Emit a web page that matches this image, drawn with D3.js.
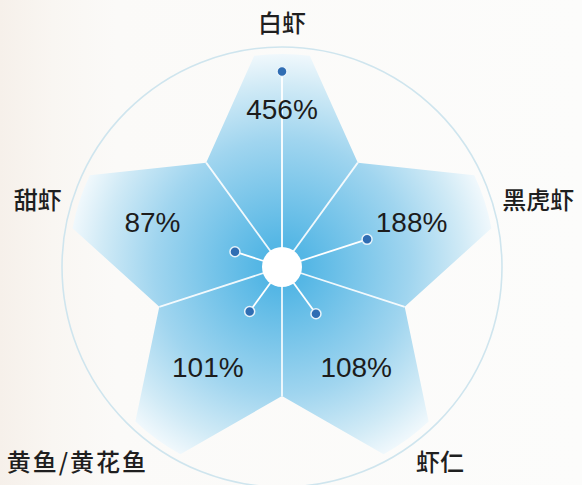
<!DOCTYPE html>
<html>
<head>
<meta charset="utf-8">
<script src="https://cdn.jsdelivr.net/npm/d3@7"></script>
<style>
  html, body { margin: 0; padding: 0; background: #fbfaf8; }
  svg { display: block; }
</style>
</head>
<body>
<svg id="chart" width="582" height="485"></svg>
<script>
// ---- data ----
const categories = ["白虾", "黑虎虾", "虾仁", "黄鱼/黄花鱼", "甜虾"];
const values = [456, 188, 108, 101, 87];
const valueLabels = ["456%", "188%", "108%", "101%", "87%"];

// ---- layout ----
const W = 582, H = 485;
const cx = 282, cy = 267;
const outerR = 220, tipR = 213, innerR = 129, hubR = 20;
const tipHalf = 7.5 * Math.PI / 180;

const svg = d3.select("#chart");
const defs = svg.append("defs");

// background paper tint
const bg = defs.append("linearGradient").attr("id", "bg").attr("x1", 0).attr("x2", 1).attr("y1", 0).attr("y2", 0);
bg.append("stop").attr("offset", 0).attr("stop-color", "#f6f0ea");
bg.append("stop").attr("offset", 0.09).attr("stop-color", "#f9f6f2");
bg.append("stop").attr("offset", 0.2).attr("stop-color", "#fbfaf8");
bg.append("stop").attr("offset", 1).attr("stop-color", "#fcfcfb");
svg.append("rect").attr("width", W).attr("height", H).attr("fill", "url(#bg)");

// radial gradient for the star (in the centred group's coordinates)
const rg = defs.append("radialGradient").attr("id", "starFill")
  .attr("gradientUnits", "userSpaceOnUse").attr("cx", 0).attr("cy", 0).attr("r", tipR);
[[0, "#4cb2e3"], [0.12, "#56b7e5"], [0.6, "#a0d5ef"], [0.85, "#d0eaf6"], [1, "#f0f8fc"]]
  .forEach(([o, c]) => rg.append("stop").attr("offset", o).attr("stop-color", c));

const angle = d3.scaleLinear().domain([0, categories.length]).range([0, 2 * Math.PI]);
const rScale = d3.scaleLinear().domain([0, 500]).range([15, 213]);

const g = svg.append("g").attr("transform", `translate(${cx},${cy})`);
const pt = (a, r) => [r * Math.sin(a), -r * Math.cos(a)];

// outer circle
g.append("circle").attr("r", outerR).attr("fill", "none")
  .attr("stroke", "#cfe5ee").attr("stroke-width", 1.6);

// star shape
const p = d3.path();
categories.forEach((c, i) => {
  const a = angle(i);
  const s = pt(a - tipHalf, tipR);
  if (i === 0) p.moveTo(s[0], s[1]); else p.lineTo(s[0], s[1]);
  p.arc(0, 0, tipR, a - tipHalf - Math.PI / 2, a + tipHalf - Math.PI / 2);
  const iv = pt(a + Math.PI / categories.length, innerR);
  p.lineTo(iv[0], iv[1]);
});
p.closePath();
g.append("path").attr("d", p.toString()).attr("fill", "url(#starFill)");

// separator lines (center to inner vertices)
categories.forEach((c, i) => {
  const iv = pt(angle(i) + Math.PI / categories.length, innerR);
  g.append("line").attr("x1", 0).attr("y1", 0).attr("x2", iv[0]).attr("y2", iv[1])
    .attr("stroke", "#ffffff").attr("stroke-width", 1.8).attr("opacity", 0.9);
});

// spokes to values
g.selectAll("line.spoke").data(values).join("line").attr("class", "spoke")
  .attr("x1", 0).attr("y1", 0)
  .attr("x2", (d, i) => pt(angle(i), rScale(d))[0])
  .attr("y2", (d, i) => pt(angle(i), rScale(d))[1])
  .attr("stroke", "#ffffff").attr("stroke-width", 1.8);

// hub
g.append("circle").attr("r", hubR).attr("fill", "#ffffff");

// dots
g.selectAll("circle.dot").data(values).join("circle").attr("class", "dot")
  .attr("cx", (d, i) => pt(angle(i), rScale(d))[0])
  .attr("cy", (d, i) => pt(angle(i), rScale(d))[1])
  .attr("r", 5).attr("fill", "#2f6db3")
  .attr("stroke", "#e6f3fb").attr("stroke-width", 1.5);

// value labels
const valR = (d, i) => Math.max(rScale(d) - 40, 120 + 18 * Math.pow(Math.sin(angle(i)), 2));
g.selectAll("text.val").data(values).join("text").attr("class", "val")
  .attr("x", (d, i) => pt(angle(i), valR(d, i))[0])
  .attr("y", (d, i) => pt(angle(i), valR(d, i))[1] - 2)
  .attr("text-anchor", "middle").attr("dominant-baseline", "central")
  .attr("font-family", "'Liberation Sans', Arial, sans-serif")
  .attr("font-size", 28).attr("fill", "#1c1c1c")
  .text((d, i) => valueLabels[i]);

// category labels
const labR = 238;
g.selectAll("text.cat").data(categories).join("text").attr("class", "cat")
  .each(function (d, i) {
    const a = angle(i);
    const s = Math.sin(a), c = Math.cos(a);
    let x = labR * s, y = -labR * c;
    let anchor = "middle";
    if (s > 0.1) { anchor = "start"; x -= 6; }
    else if (s < -0.1) { anchor = "end"; x += 6; }
    y += 6 * Math.pow(Math.abs(s), 4);
    if (c > 0.99) y -= 8;
    d3.select(this).attr("x", x).attr("y", y).attr("text-anchor", anchor);
  })
  .attr("dominant-baseline", "central")
  .attr("font-family", "'Noto Sans CJK SC', sans-serif")
  .attr("font-size", 24).attr("font-weight", 500).attr("fill", "#1f1f1f")
  .attr("letter-spacing", d => d.length > 3 ? 2 : 0)
  .text(d => d);
</script>
</body>
</html>
